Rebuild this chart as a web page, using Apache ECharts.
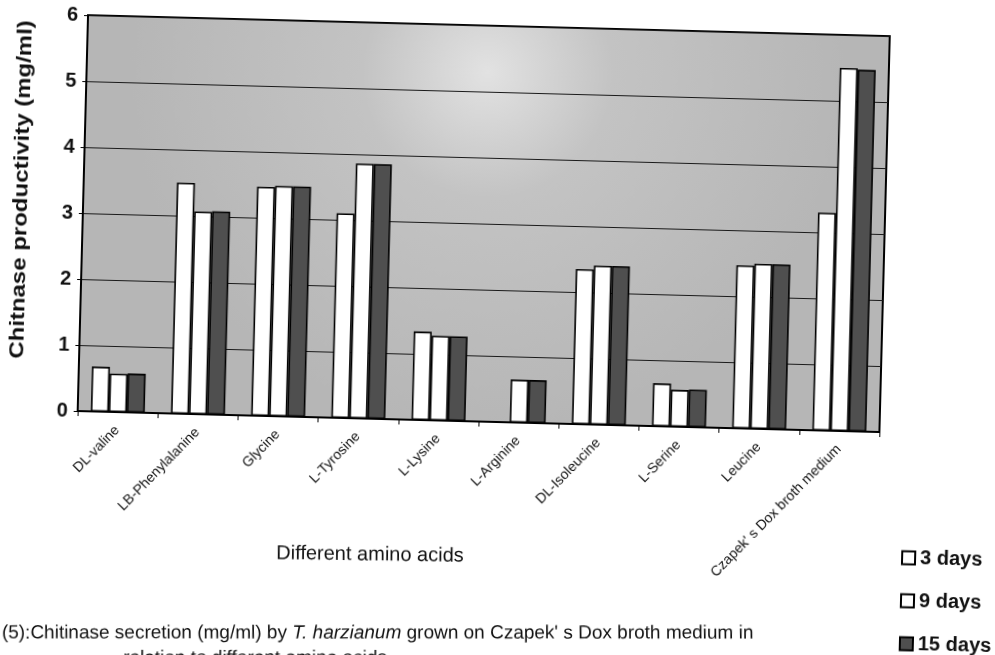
<!DOCTYPE html>
<html>
<head>
<meta charset="utf-8">
<script src="https://cdn.jsdelivr.net/npm/echarts@6/dist/echarts.min.js"></script>
<style>
  html, body { margin: 0; padding: 0; background: #ffffff; overflow: hidden; width: 995px; height: 655px; }
  #chart { position: absolute; left: 0; top: 0; width: 1000px; height: 700px;
           transform-origin: 497.5px 327.5px; transform: rotate(1.5deg); }
</style>
</head>
<body>
<div id="chart"></div>
<script>
const categories = ['DL-valine', 'LB-Phenylalanine', 'Glycine', 'L-Tyrosine', 'L-Lysine',
  'L-Arginine', 'DL-Isoleucine', 'L-Serine', 'Leucine', "Czapek' s Dox broth medium"];
const seriesNames = ['3 days', '9 days', '15 days'];
const days3 = [0.68, 3.50, 3.47, 3.10, 1.34, 0, 2.35, 0.65, 2.47, 3.30];
const days9 = [0.58, 3.07, 3.49, 3.86, 1.28, 0.65, 2.41, 0.56, 2.50, 5.50];
const days15 = [0.59, 3.08, 3.49, 3.86, 1.28, 0.65, 2.41, 0.57, 2.50, 5.48];
const yMin = 0, yMax = 6, yStep = 1;
const yAxisTitle = 'Chitnase productivity (mg/ml)';
const xAxisTitle = 'Different amino acids';
const captionLine1 = "(5):Chitinase secretion (mg/ml) by ";
const captionItalic = "T. harzianum";
const captionLine1b = " grown on Czapek' s Dox broth medium in";
const captionLine2 = 'relation to different amino acids';

const chart = echarts.init(document.getElementById('chart'), null, { renderer: 'canvas' });
const F = 'Arial, "Liberation Sans", sans-serif';
const counter = 0.026;

const barStyle = (fill) => ({ color: fill, borderColor: '#000', borderWidth: 1.6 });

chart.setOption({
  backgroundColor: '#ffffff',
  animation: false,
  grid: {
    left: 80, top: 26, width: 802, height: 396,
    show: true,
    backgroundColor: {
      type: 'radial', x: 0.5, y: 0.12, r: 0.9,
      colorStops: [
        { offset: 0, color: '#e2e2e2' },
        { offset: 0.35, color: '#c3c3c3' },
        { offset: 1, color: '#b6b6b6' }
      ]
    },
    borderColor: '#000', borderWidth: 2
  },
  legend: {
    orient: 'vertical', left: 902, top: 532,
    itemWidth: 13, itemHeight: 13, itemGap: 23,
    icon: 'rect',
    textStyle: { fontFamily: F, fontSize: 20, fontWeight: 'bold', color: '#111', lineHeight: 20 },
    data: seriesNames
  },
  xAxis: {
    type: 'category', data: categories,
    axisLine: { show: true, lineStyle: { color: '#000', width: 2 } },
    axisTick: { show: true, length: 5, interval: 0, lineStyle: { color: '#000', width: 1 } },
    axisLabel: { interval: 0, rotate: 47, margin: 16, fontFamily: F, fontSize: 14, color: '#111' },
    splitLine: { show: false }
  },
  yAxis: {
    type: 'value', min: yMin, max: yMax, interval: yStep,
    axisLine: { show: true, lineStyle: { color: '#000', width: 2 } },
    axisTick: { show: true, length: 4, lineStyle: { color: '#000' } },
    axisLabel: { margin: 10, fontFamily: F, fontSize: 20, fontWeight: 'bold', color: '#111' },
    splitLine: { show: true, lineStyle: { color: '#1a1a1a', width: 1 } }
  },
  series: [
    { name: seriesNames[0], type: 'bar', data: days3, barWidth: 18, barGap: '0%', itemStyle: barStyle('#ffffff') },
    { name: seriesNames[1], type: 'bar', data: days9, barWidth: 18, barGap: '0%', itemStyle: barStyle('#ffffff') },
    { name: seriesNames[2], type: 'bar', data: days15, barWidth: 18, barGap: '0%', itemStyle: barStyle('#4f4f4f') }
  ],
  graphic: [
    {
      type: 'text', x: 18, y: 202, rotation: Math.PI / 2, scaleX: 1.2,
      style: { text: yAxisTitle, fontFamily: F, fontSize: 20, fontWeight: 'bold', fill: '#111',
               align: 'center', verticalAlign: 'middle' }
    },
    {
      type: 'text', x: 376, y: 558, rotation: 0.012,
      style: { text: xAxisTitle, fontFamily: F, fontSize: 20, fill: '#111', align: 'center', verticalAlign: 'middle' }
    },
    {
      type: 'text', x: 10, y: 646, rotation: counter,
      style: {
        text: '{a|' + captionLine1 + '}{b|' + captionItalic + '}{a|' + captionLine1b + '}',
        verticalAlign: 'middle', align: 'left',
        rich: {
          a: { fontFamily: F, fontSize: 19, fill: '#111' },
          b: { fontFamily: F, fontSize: 19, fontStyle: 'italic', fill: '#111' }
        }
      }
    },
    {
      type: 'text', x: 132, y: 668, rotation: counter,
      style: { text: captionLine2, fontFamily: F, fontSize: 19, fill: '#111', align: 'left', verticalAlign: 'middle' }
    }
  ]
});
</script>
</body>
</html>
